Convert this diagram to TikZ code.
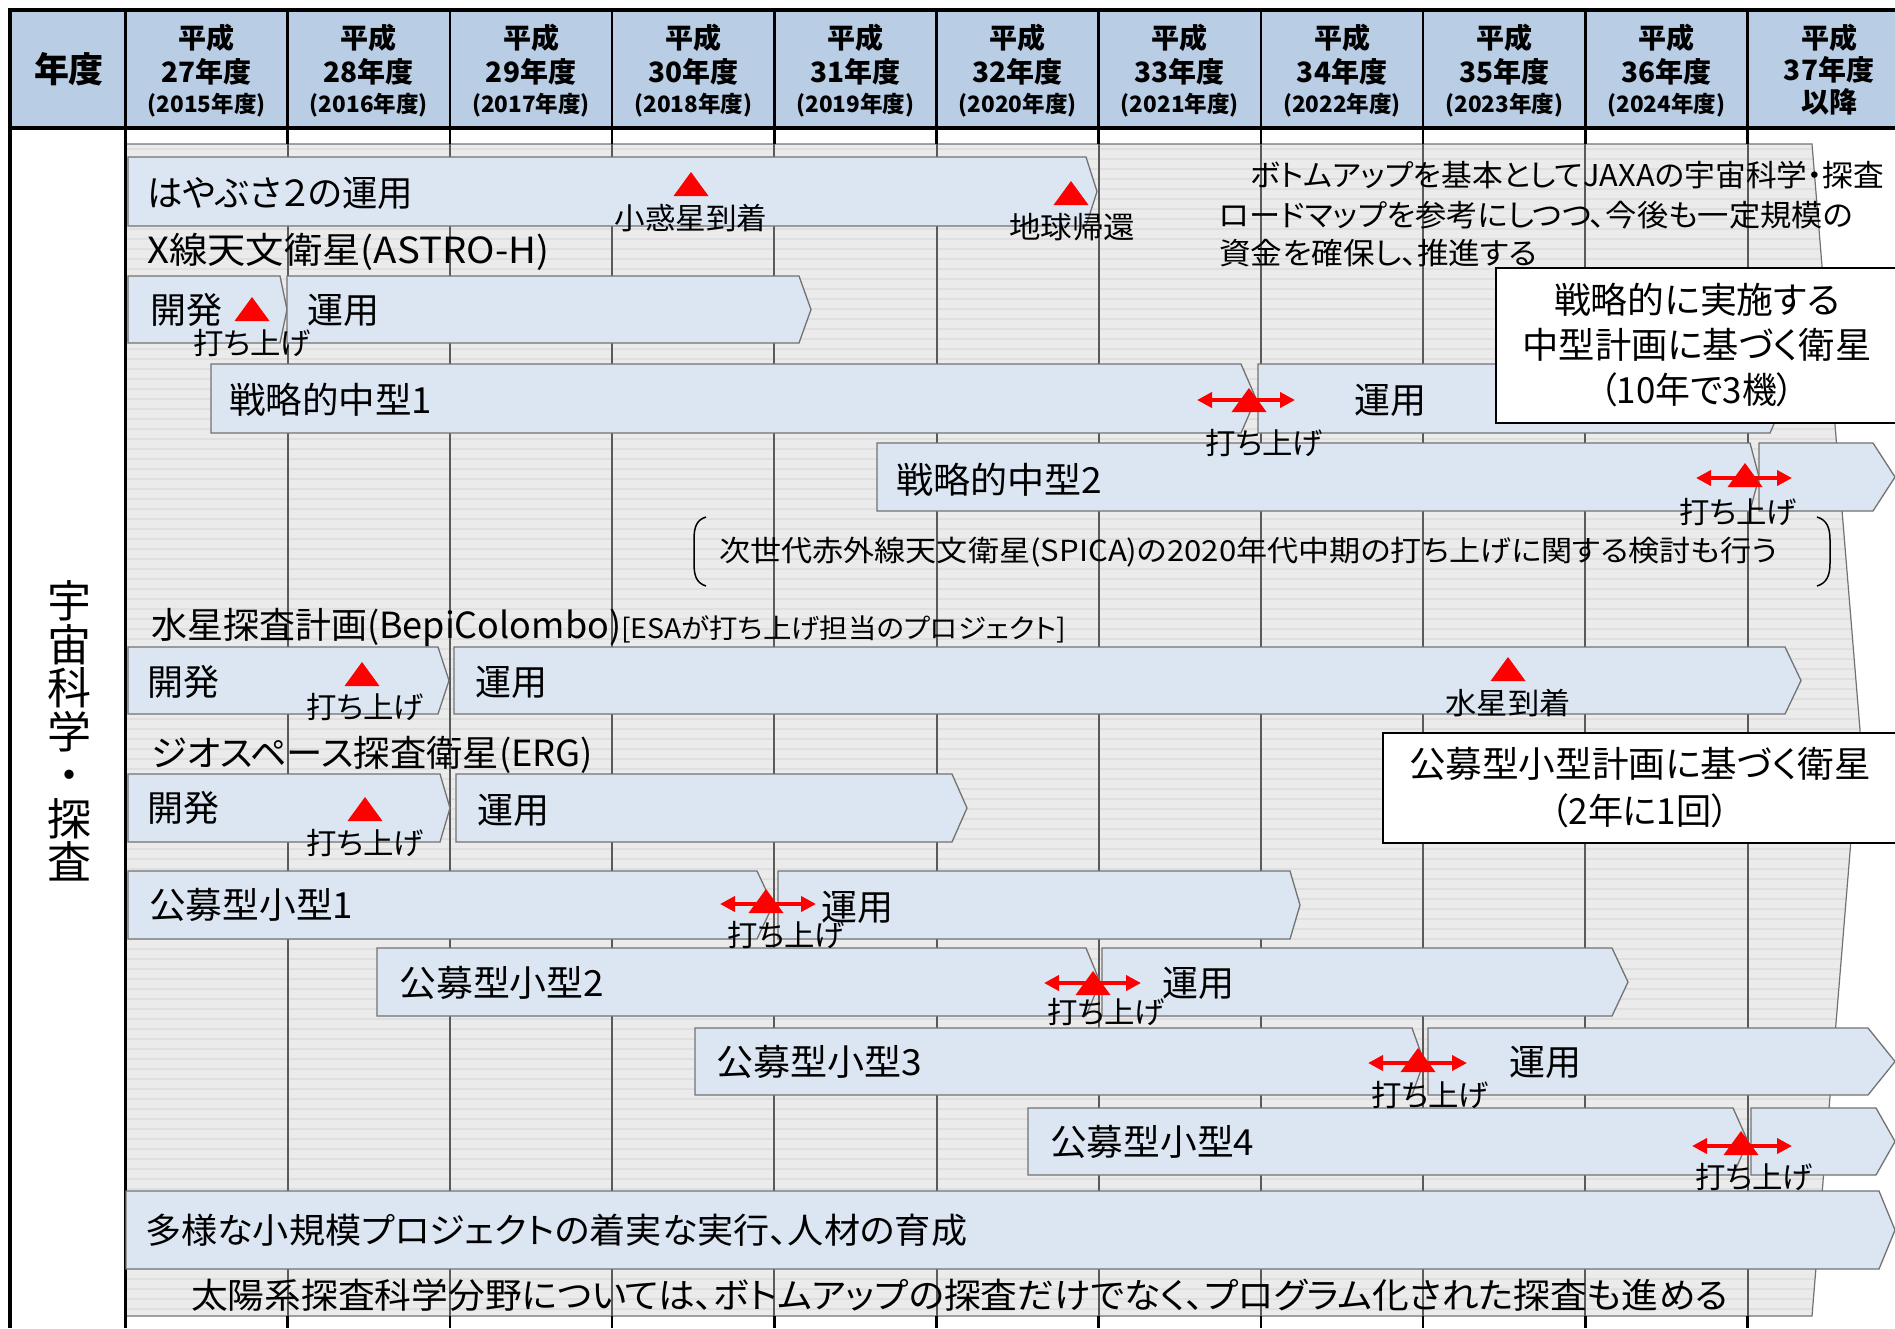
\documentclass[tikz,border=0pt]{standalone}
\usepackage{fontspec}
\setmainfont{Noto Sans CJK JP}[RawFeature=+palt]
\usepackage{graphicx}
\usetikzlibrary{arrows.meta}
\definecolor{hdrblue}{HTML}{B9CDE5}
\definecolor{barfill}{HTML}{DCE6F2}
\definecolor{baredge}{HTML}{727272}
\definecolor{bggray}{HTML}{EBEBEB}
\definecolor{bgstripe}{HTML}{DFDFDF}
\definecolor{gridgray}{HTML}{5A5A5A}
\newcommand\fitw[2]{\resizebox{#1pt}{\height}{#2}}
\newcommand\drawbar[5]{\path[barstyle] (#1,#2) -- (#3,#2) -- (#5,{(#2+#4)/2}) -- (#3,#4) -- (#1,#4) -- cycle;}
\newcommand\mtri[2]{\fill[red] (#1,#2) -- ++(17.5,24) -- ++(-35,0) -- cycle;}
\newcommand\uchiage{\fitw{118}{打ち上げ}}
\begin{document}
\begin{tikzpicture}[x=1pt,y=-1pt,
  hdrbig/.style={font=\bfseries\fontsize{28}{28}\selectfont, inner sep=0},
  hdrsmall/.style={font=\bfseries\fontsize{22.5}{22.5}\selectfont, inner sep=0},
  lbl/.style={font=\fontsize{36}{36}\selectfont, inner sep=0, anchor=west},
  mslbl/.style={font=\fontsize{30}{30}\selectfont, inner sep=0},
  barstyle/.style={fill=barfill, draw=baredge, line width=1.3pt, line join=miter},
  dblarrow/.style={draw=red, line width=4.5pt, {Triangle[length=15pt,width=15pt]}-{Triangle[length=15pt,width=15pt]}},
  wbox/.style={draw=black, fill=white, line width=2.5pt},
  ]
\useasboundingbox (0,0) rectangle (1895,1328);
\fill[white] (0,0) rectangle (1895,1328);
% header band
\fill[hdrblue] (10,10) rectangle (1895,128);
% grey background arrow
\begin{scope}
\clip (125.5,144) -- (1812,144) -- (1860,730) -- (1812,1316) -- (125.5,1316) -- cycle;
\fill[bggray] (120,140) rectangle (1870,1320);
\foreach \yy in {149,159,...,1316} \draw[bgstripe, line width=1.2pt] (120,\yy) -- (1870,\yy);
\end{scope}
\draw[baredge, line width=1.2pt] (125.5,144) -- (1812,144) -- (1860,730) -- (1812,1316) -- (125.5,1316);
% column lines
\foreach \xx in {287.7,449.9,612.1,774.3,936.5,1098.7,1260.9,1423.1,1585.3,1747.5} {
  \draw[black, line width=2.5pt] (\xx,10) -- (\xx,144);
  \draw[gridgray, line width=2pt] (\xx,144) -- (\xx,1316);
  \draw[black, line width=2.5pt] (\xx,1316) -- (\xx,1328);
}
\draw[black, line width=4pt] (8,10) -- (1895,10);
\draw[black, line width=4pt] (8,128) -- (1895,128);
\draw[black, line width=4pt] (10,8) -- (10,1328);
\draw[black, line width=3pt] (125.5,10) -- (125.5,1328);

% header text
\node[font=\bfseries\fontsize{35}{35}\selectfont, inner sep=0] (nendo) at (69,69) {年度};
\foreach \k/\ya/\yb in {0/27/2015,1/28/2016,2/29/2017,3/30/2018,4/31/2019,5/32/2020,6/33/2021,7/34/2022,8/35/2023,9/36/2024} {
  \pgfmathsetmacro\cx{206.6+162.2*\k}
  \node[hdrbig] (hp\k) at (\cx,38) {平成};
  \node[hdrbig] (hy\k) at (\cx,72) {\ya{}年度};
  \node[hdrsmall] (hz\k) at (\cx,105) {(\yb{}年度)};
}
\node[hdrbig] (hp10) at (1829,38) {平成};
\node[hdrbig] (hy10) at (1829,70) {37年度};
\node[hdrbig] (hz10) at (1829,102) {以降};

% left vertical label
\node[align=center, font=\fontsize{44}{43.5}\selectfont, inner sep=0] (vert) at (69,731) {宇\\宙\\科\\学\\・\\探\\査};

% bars
\drawbar{128}{157}{1086}{226}{1097}
\drawbar{128}{276}{280}{343}{287}
\drawbar{287}{276}{799}{343}{811}
\drawbar{211}{364}{1241}{433}{1256}
\drawbar{1258}{364}{1770}{433}{1785}
\drawbar{877}{443}{1750}{511}{1759}
\drawbar{1759}{443}{1873}{511}{1895}
\drawbar{128}{647}{438}{714}{449}
\drawbar{454}{647}{1785}{714}{1801}
\drawbar{128}{774}{440}{842}{450}
\drawbar{456}{774}{952}{842}{967}
\drawbar{128}{871}{757}{939}{773}
\drawbar{778}{871}{1290}{939}{1300}
\drawbar{377}{948}{1086}{1016}{1100}
\drawbar{1102}{948}{1612}{1016}{1628}
\drawbar{695}{1028}{1412}{1095}{1424}
\drawbar{1428}{1028}{1868}{1095}{1895}
\drawbar{1028}{1108}{1733}{1175}{1748}
\drawbar{1751}{1108}{1876}{1175}{1895}
\drawbar{126}{1191}{1879}{1269}{1895}

% launch arrows
\coordinate (a1l) at (1197,400); \coordinate (a1r) at (1295,400);
\coordinate (a2l) at (1696,478); \coordinate (a2r) at (1792,478);
\coordinate (a3l) at (720,904);  \coordinate (a3r) at (816,904);
\coordinate (a4l) at (1044,983); \coordinate (a4r) at (1141,983);
\coordinate (a5l) at (1368,1063); \coordinate (a5r) at (1467,1063);
\coordinate (a6l) at (1692,1146); \coordinate (a6r) at (1792,1146);
\draw[dblarrow] (a1l) -- (a1r);
\draw[dblarrow] (a2l) -- (a2r);
\draw[dblarrow] (a3l) -- (a3r);
\draw[dblarrow] (a4l) -- (a4r);
\draw[dblarrow] (a5l) -- (a5r);
\draw[dblarrow] (a6l) -- (a6r);

% milestone triangles
\mtri{691}{172}
\mtri{1071}{181}
\mtri{252}{297}
\mtri{1249}{388}
\mtri{1745}{463}
\mtri{362}{662}
\mtri{1508}{657}
\mtri{365}{797}
\mtri{766}{889}
\mtri{1093}{971}
\mtri{1418}{1048}
\mtri{1741}{1131}

% milestone labels
\node[mslbl] (m1) at (691,218) {\fitw{153}{小惑星到着}};
\node[mslbl] (m2) at (1072,227) {\fitw{126}{地球帰還}};
\node[mslbl] (m3) at (252,343) {\uchiage};
\node[mslbl] (m4) at (1264,443) {\uchiage};
\node[mslbl] (m5) at (1738,512) {\uchiage};
\node[mslbl] (m6) at (365,707) {\uchiage};
\node[mslbl] (m7) at (1508,703) {\fitw{125}{水星到着}};
\node[mslbl] (m8) at (365,843) {\uchiage};
\node[mslbl] (m9) at (786,935) {\uchiage};
\node[mslbl] (m10) at (1106,1012) {\uchiage};
\node[mslbl] (m11) at (1430,1095) {\uchiage};
\node[mslbl] (m12) at (1754,1177) {\uchiage};

% bar labels
\node[lbl] (t1) at (147,193) {\fitw{266}{はやぶさ２の運用}};
\node[lbl] (t2) at (147,252) {\fitw{402}{X線天文衛星(ASTRO-H)}};
\node[lbl] (t3) at (150,310) {開発};
\node[lbl] (t4) at (307,310) {運用};
\node[lbl] (t5) at (229,400) {\fitw{203}{戦略的中型1}};
\node[lbl] (t6) at (1354,400) {運用};
\node[lbl] (t7) at (896,480) {\fitw{206}{戦略的中型2}};
\node[lbl] (t8) at (151,627) {\fitw{470}{水星探査計画(BepiColombo)}\fontsize{27}{27}\selectfont\fitw{445}{[ESAが打ち上げ担当のプロジェクト]}};
\node[lbl] (t9) at (147,682) {開発};
\node[lbl] (t10) at (475,682) {運用};
\node[lbl] (t11) at (151,755) {\fitw{442}{ジオスペース探査衛星(ERG)}};
\node[lbl] (t12) at (147,808) {開発};
\node[lbl] (t13) at (477,810) {運用};
\node[lbl] (t14) at (149,905) {\fitw{204}{公募型小型1}};
\node[lbl] (t15) at (821,907) {運用};
\node[lbl] (t16) at (399,983) {\fitw{205}{公募型小型2}};
\node[lbl] (t17) at (1162,983) {運用};
\node[lbl] (t18) at (716,1062) {\fitw{206}{公募型小型3}};
\node[lbl] (t19) at (1509,1062) {運用};
\node[lbl] (t20) at (1050,1142) {\fitw{204}{公募型小型4}};
\node[lbl, font=\fontsize{35}{35}\selectfont] (t21) at (145,1230) {\fitw{822}{多様な小規模プロジェクトの着実な実行、人材の育成}};
\node[lbl, font=\fontsize{35}{35}\selectfont] (t22) at (191,1295) {\fitw{1537}{太陽系探査科学分野については、ボトムアップの探査だけでなく、プログラム化された探査も進める}};

% SPICA note with brackets
\node[lbl, font=\fontsize{29}{29}\selectfont] (spica) at (719,552) {\fitw{1058}{次世代赤外線天文衛星(SPICA)の2020年代中期の打ち上げに関する検討も行う}};
\draw[line width=1.5pt] (706,517) .. controls (696,520) and (694,528) .. (694,540) -- (694,563) .. controls (694,575) and (696,583) .. (706,586);
\draw[line width=1.5pt] (1817,517) .. controls (1827,520) and (1830,528) .. (1830,540) -- (1830,563) .. controls (1830,575) and (1827,583) .. (1817,586);

% bottom-up note
\node[lbl, font=\fontsize{30}{30}\selectfont] (bu1) at (1250,175) {\fitw{634}{ボトムアップを基本としてJAXAの宇宙科学・探査}};
\node[lbl, font=\fontsize{30}{30}\selectfont] (bu2) at (1219,215) {\fitw{634}{ロードマップを参考にしつつ、今後も一定規模の}};
\node[lbl, font=\fontsize{30}{30}\selectfont] (bu3) at (1219,253) {\fitw{318}{資金を確保し、推進する}};

% white boxes
\path[wbox] (1496,268) rectangle (1912,423);
\node[align=center, font=\fontsize{36}{45}\selectfont, inner sep=0] (box1) at (1697,345) {\fitw{286}{戦略的に実施する}\\\fitw{349}{中型計画に基づく衛星}\\\fitw{195}{（10年で3機）}};
\path[wbox] (1383,733) rectangle (1912,843);
\node[align=center, font=\fontsize{36}{47}\selectfont, inner sep=0] (box2) at (1640,788) {\fitw{462}{公募型小型計画に基づく衛星}\\\fitw{178}{（2年に1回）}};
\end{tikzpicture}
\end{document}
